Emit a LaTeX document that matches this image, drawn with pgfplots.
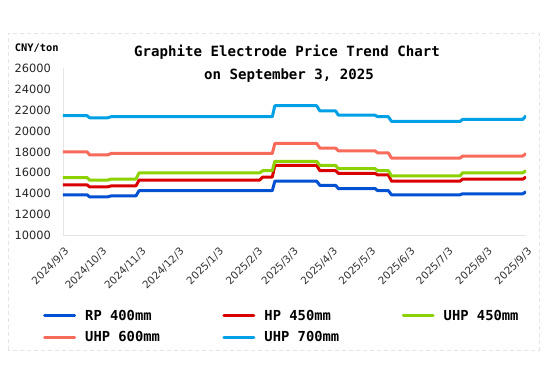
\documentclass[border=0pt]{standalone}
\usepackage{fontspec}
\setmainfont{DejaVu Sans}
\newfontfamily\monofont{DejaVu Sans Mono}
\usepackage{pgfplots}
\pgfplotsset{compat=1.18}
\definecolor{cRP}{HTML}{0050D2}
\definecolor{cHP}{HTML}{DA0000}
\definecolor{cU45}{HTML}{8CD200}
\definecolor{cU60}{HTML}{F86A5A}
\definecolor{cU70}{HTML}{00A0E6}
\begin{document}
\begin{tikzpicture}
\path[use as bounding box] (0,0) rectangle (550pt,384pt);
\fill[white] (0,0) rectangle (550pt,384pt);
\draw[black!10, dash pattern=on 4pt off 3pt] (8pt,34pt) rectangle (539pt,351pt);
\node[font=\monofont\bfseries\fontsize{14.1}{16}\selectfont] at (287pt,332pt) {Graphite Electrode Price Trend Chart};
\node[font=\monofont\bfseries\fontsize{14.1}{16}\selectfont] at (289pt,308pt) {on September 3, 2025};
\node[font=\monofont\bfseries\fontsize{10.4}{12}\selectfont] at (36.7pt,335.6pt) {CNY/ton};
\begin{axis}[
  at={(63pt,148.3pt)}, anchor=south west,
  scale only axis, width=463pt, height=167.7pt,
  xmin=0, xmax=365, ymin=10000, ymax=26000,
  axis x line*=bottom, axis y line*=left,
  axis line style={draw=black!10, line width=0.8pt},
  major tick length=0pt,
  ytick={10000,12000,...,26000},
  scaled y ticks=false,
  /pgf/number format/assume math mode=true,
  /pgf/number format/1000 sep={},
  yticklabel style={font=\fontsize{11.4}{13}\selectfont, anchor=east, inner sep=0pt, xshift=-12pt, text=black!85},
  xtick={0,30,61,91,122,153,181,212,242,273,303,334,365},
  xticklabels={2024/9/3,2024/10/3,2024/11/3,2024/12/3,2025/1/3,2025/2/3,2025/3/3,2025/4/3,2025/5/3,2025/6/3,2025/7/3,2025/8/3,2025/9/3},
  xticklabel style={font=\fontsize{10.4}{12}\selectfont, inner sep=0pt, xshift=4pt, yshift=-14pt, rotate=45, anchor=east, text=black!80},
  legend columns=3,
  legend cell align=left,
  legend image code/.code={\draw[#1, line cap=round] (1.5pt,0pt) -- (31.5pt,0pt);},
  legend style={at={(-0.0432,-0.435)}, anchor=north west, draw=none, fill=none, inner sep=0pt,
    font=\monofont\bfseries\fontsize{13.8}{15}\selectfont,
    nodes={inner xsep=0pt, inner ysep=1pt},
    row sep=8pt,
    /tikz/every odd column/.append style={column sep=9pt},
    /tikz/every even column/.append style={column sep=62.5pt}},
  every axis plot/.append style={line width=3pt, line join=round},
]
\addplot[cRP] coordinates {(0,13900)(19,13900)(21,13700)(35,13700)(38,13800)(57.5,13800)(60,14300)(155,14300)(157.5,14300)(165,14300)(167,15200)(200,15200)(202.5,14800)(215,14800)(217,14500)(246,14500)(248,14300)(256.5,14300)(259,13900)(313,13900)(315,14000)(362.5,14000)(365,14200)};
\addlegendentry{RP 400mm}
\addplot[cHP] coordinates {(0,14850)(19,14850)(21,14650)(35,14650)(38,14750)(57.5,14750)(60,15300)(155,15300)(157.5,15600)(165,15600)(167,16700)(200,16700)(202.5,16200)(215,16200)(217,15950)(246,15950)(248,15800)(256.5,15800)(259,15200)(313,15200)(315,15400)(362.5,15400)(365,15600)};
\addlegendentry{HP 450mm}
\addplot[cU45] coordinates {(0,15550)(19,15550)(21,15300)(35,15300)(38,15400)(57.5,15400)(60,16000)(155,16000)(157.5,16200)(165,16200)(167,17100)(200,17100)(202.5,16700)(215,16700)(217,16400)(246,16400)(248,16200)(256.5,16200)(259,15700)(313,15700)(315,16000)(362.5,16000)(365,16200)};
\addlegendentry{UHP 450mm}
\addplot[cU60] coordinates {(0,18000)(19,18000)(21,17700)(35,17700)(38,17850)(57.5,17850)(60,17850)(155,17850)(157.5,17850)(165,17850)(167,18800)(200,18800)(202.5,18350)(215,18350)(217,18100)(246,18100)(248,17900)(256.5,17900)(259,17400)(313,17400)(315,17600)(362.5,17600)(365,17850)};
\addlegendentry{UHP 600mm}
\addplot[cU70] coordinates {(0,21450)(19,21450)(21,21250)(35,21250)(38,21350)(57.5,21350)(60,21350)(155,21350)(157.5,21350)(165,21350)(167,22400)(200,22400)(202.5,21900)(215,21900)(217,21500)(246,21500)(248,21350)(256.5,21350)(259,20900)(313,20900)(315,21100)(362.5,21100)(365,21450)};
\addlegendentry{UHP 700mm}
\end{axis}
\end{tikzpicture}
\end{document}
